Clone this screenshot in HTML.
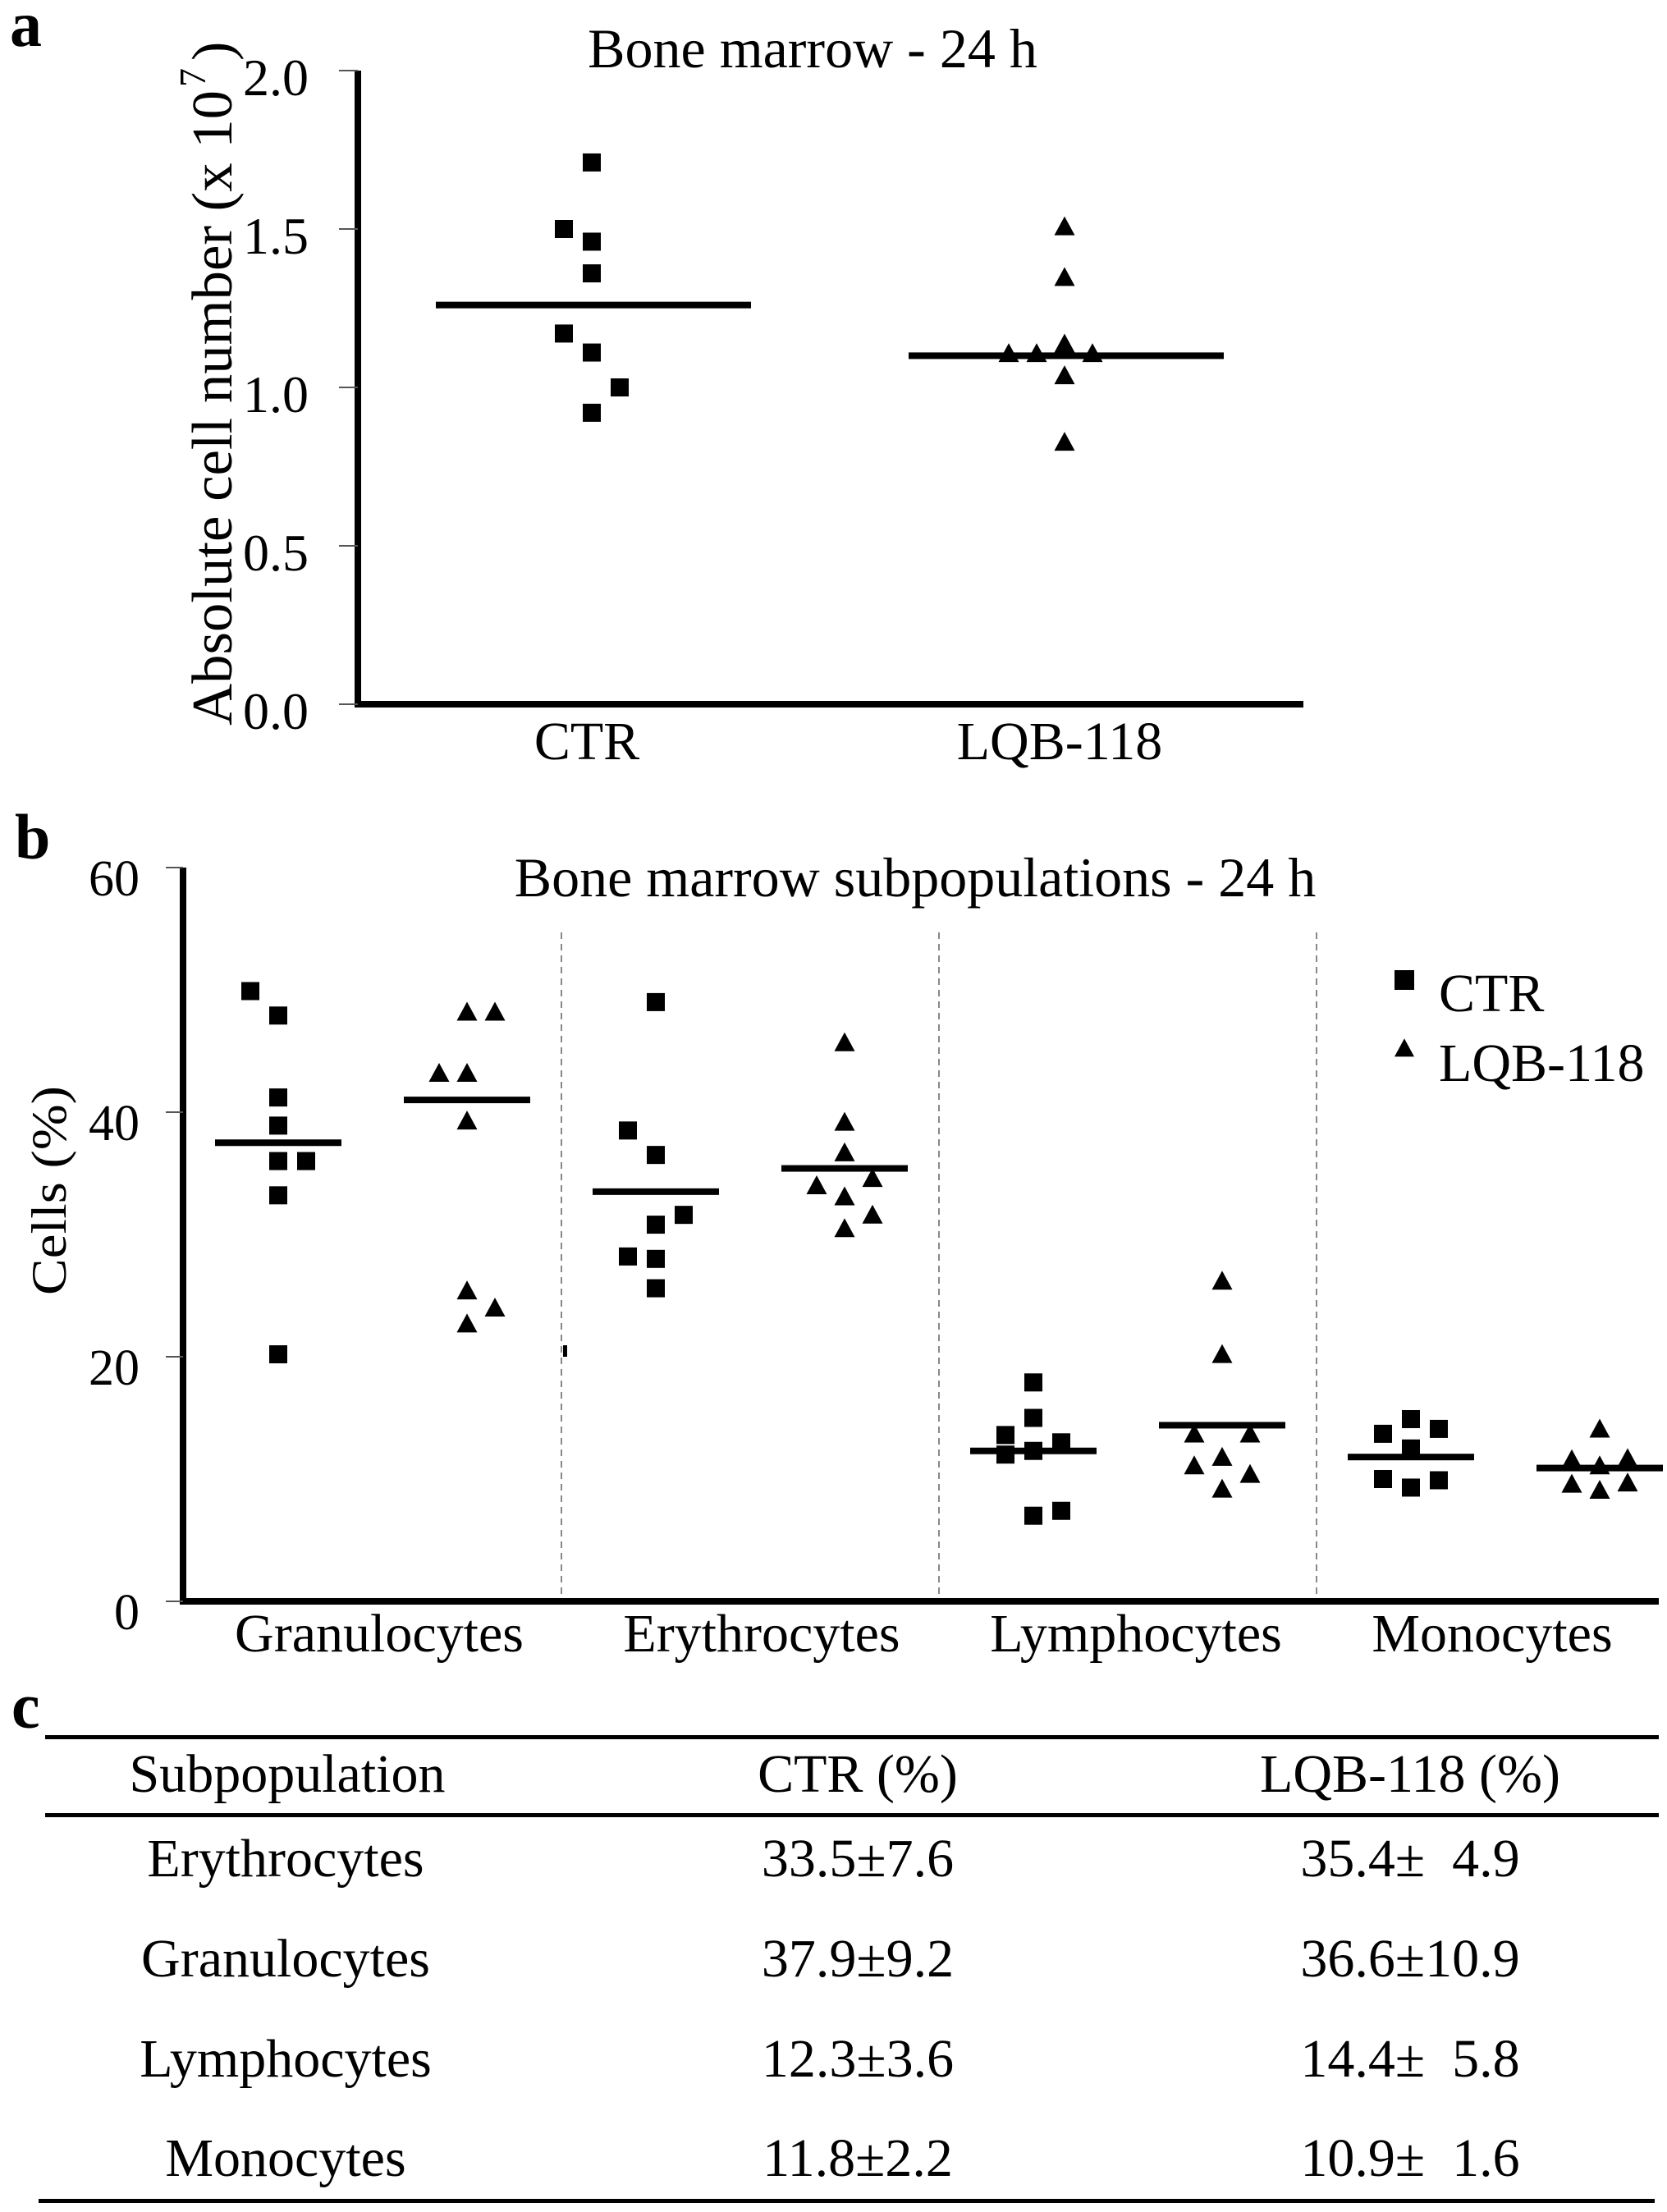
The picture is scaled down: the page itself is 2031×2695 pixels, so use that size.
<!DOCTYPE html>
<html><head><meta charset="utf-8"><style>
html,body{margin:0;padding:0;background:#fff;}
svg{display:block;font-family:"Liberation Serif",serif;}
</style></head><body>
<svg id="fig" xmlns="http://www.w3.org/2000/svg" width="2031" height="2695" viewBox="0 0 2031 2695">
<rect width="2031" height="2695" fill="#fff"/>
<g id="pa"></g>
<g id="pb"></g>
<g id="pc">
  <text x="14" y="2105" font-size="78" font-weight="bold">c</text>
  <rect x="55" y="2114" width="1966" height="5" fill="#000"/>
  <rect x="55" y="2209" width="1966" height="5" fill="#000"/>
  <rect x="47" y="2679" width="1969" height="5" fill="#000"/>
  <g font-size="66" text-anchor="middle">
    <text x="350" y="2183">Subpopulation</text>
    <text x="1045" y="2183">CTR (%)</text>
    <text x="1718" y="2183">LQB-118 (%)</text>
    <text x="348" y="2286">Erythrocytes</text>
    <text x="1045" y="2286">33.5±7.6</text>
    <text x="1718" y="2286" xml:space="preserve">35.4±  4.9</text>
    <text x="348" y="2408">Granulocytes</text>
    <text x="1045" y="2408">37.9±9.2</text>
    <text x="1718" y="2408">36.6±10.9</text>
    <text x="348" y="2530">Lymphocytes</text>
    <text x="1045" y="2530">12.3±3.6</text>
    <text x="1718" y="2530" xml:space="preserve">14.4±  5.8</text>
    <text x="348" y="2651">Monocytes</text>
    <text x="1045" y="2651">11.8±2.2</text>
    <text x="1718" y="2651" xml:space="preserve">10.9±  1.6</text>
  </g>
</g>
</svg>
<script>
// ---- Panel a data ----
const aCategories = ["CTR", "LQB-118"];
const aTicks = [0, 0.5, 1.0, 1.5, 2.0];
const aTickLabels = ["0.0", "0.5", "1.0", "1.5", "2.0"];
const aCtrValues = [1.71, 1.50, 1.46, 1.36, 1.17, 1.11, 1.00, 0.92];
const aCtrJitter = [0, -1, 0, 0, -1, 0, 1, 0];
const aLqbValues = [1.50, 1.34, 1.13, 1.10, 1.10, 1.10, 1.03, 0.82];
const aLqbJitter = [0, 0, 0, -2, -1, 1, 0, 0];
const aMeans = [1.26, 1.10];

// ---- Panel b data ----
const bCategories = ["Granulocytes", "Erythrocytes", "Lymphocytes", "Monocytes"];
const bTicks = [0, 20, 40, 60];
const bTickLabels = ["0", "20", "40", "60"];
const bCtrValues = [
  [49.9, 47.9, 41.2, 38.9, 36.0, 36.0, 33.2, 20.2],
  [49.0, 38.5, 36.5, 31.6, 30.8, 28.2, 28.0, 25.6],
  [17.9, 15.0, 13.6, 13.0, 12.3, 12.0, 7.4, 7.0],
  [14.9, 14.1, 13.7, 12.5, 10.0, 9.9, 9.3]
];
const bCtrJitter = [
  [-1, 0, 0, 0, 0, 1, 0, 0],
  [0, -1, 0, 1, 0, -1, 0, 0],
  [0, 0, -1, 1, 0, -1, 1, 0],
  [0, 1, -1, 0, -1, 1, 0]
];
const bLqbValues = [
  [48.0, 48.0, 43.0, 43.0, 39.1, 25.2, 23.8, 22.5],
  [45.5, 39.0, 36.5, 34.4, 33.8, 32.9, 31.4, 30.3],
  [26.0, 20.0, 13.5, 13.5, 11.6, 10.9, 10.2, 9.0],
  [13.9, 11.4, 11.5, 10.9, 9.4, 9.5, 8.9]
];
const bLqbJitter = [
  [0, 1, -1, 0, 0, 0, 1, 0],
  [0, 0, 0, 1, -1, 0, 1, 0],
  [0, 0, -1, 1, 0, -1, 1, 0],
  [0, -1, 1, 0, -1, 1, 0]
];
const bCtrMeans = [37.5, 33.5, 12.3, 11.8];
const bLqbMeans = [41.0, 35.4, 14.4, 10.9];
const legendLabels = ["CTR", "LQB-118"];

const NS = "http://www.w3.org/2000/svg";
function mk(tag, attrs, parent, txt) {
  const el = document.createElementNS(NS, tag);
  for (const k in attrs) el.setAttribute(k, attrs[k]);
  if (txt !== undefined) el.textContent = txt;
  parent.appendChild(el);
  return el;
}
function square(parent, cx, cy, s) {
  const el = mk("rect", {x: cx - s/2, y: cy - s/2, width: s, height: s, fill: "#000"}, parent);
  
  
  return el;
}
function tri(parent, cx, cy, w) {
  const h = w * 0.92;
  const el = mk("polygon", {points: `${cx},${cy - h*2/3} ${cx - w/2},${cy + h/3} ${cx + w/2},${cy + h/3}`, fill: "#000"}, parent);
  
  
  return el;
}

// ---- Panel a ----
(function(){
  const g = document.getElementById("pa");
  const y0 = 858, yTop = 86, axX = 436;
  const yA = v => y0 - (v / 2.0) * (y0 - yTop);
  const catX = i => 721 + i * 576;
  const jit = 34;
  let t = mk("text", {x: 12, y: 56, "font-size": 78, "font-weight": "bold"}, g, "a");
  
  
  t = mk("text", {x: 990, y: 82, "font-size": 68, "text-anchor": "middle"}, g, "Bone marrow - 24 h");
  
  
  let ax = mk("rect", {x: axX - 4, y: yTop, width: 8, height: y0 - yTop + 4, fill: "#000"}, g);
  
  
  ax = mk("rect", {x: axX - 4, y: y0 - 4, width: 1592 - axX, height: 8, fill: "#000"}, g);
  
  
  aTicks.forEach((v, i) => {
    const tk = mk("line", {x1: 413, x2: axX, y1: yA(v), y2: yA(v), stroke: "#555", "stroke-width": 2}, g);
    
    
    const lb = mk("text", {x: 376, y: yA(v) + 30, "font-size": 64, "text-anchor": "end"}, g, aTickLabels[i]);
    
    
  });
  aCategories.forEach((c, i) => {
    const lb = mk("text", {x: catX(i) - 6, y: 925, "font-size": 66, "text-anchor": "middle"}, g, c);
    
    
  });
  const yt = mk("g", {transform: "translate(282,884) rotate(-90)"}, g);
  
  
  mk("text", {x: 0, y: 0, "font-size": 70, textLength: 774, lengthAdjust: "spacingAndGlyphs"}, yt, "Absolute cell number (x 10");
  mk("text", {x: 778, y: -32, "font-size": 46}, yt, "7");
  mk("text", {x: 810, y: 0, "font-size": 70}, yt, ")");
  aCtrValues.forEach((v, i) => square(g, catX(0) + aCtrJitter[i] * jit, yA(v), 22));
  aLqbValues.forEach((v, i) => tri(g, catX(1) + aLqbJitter[i] * jit, yA(v), 25));
  aMeans.forEach((m, i) => {
    const ln = mk("rect", {x: catX(i) - 190, y: yA(m) - 4, width: 384, height: 8, fill: "#000"}, g);
    
    
  });
})();

// ---- Panel b ----
(function(){
  const g = document.getElementById("pb");
  const y0 = 1951, yTop = 1057, axX = 223;
  const yB = v => y0 - (v / 60) * (y0 - yTop);
  const ctrX = i => 339 + i * 460;
  const lqbX = i => ctrX(i) + 230;
  const jit = 34;
  let t = mk("text", {x: 18, y: 1046, "font-size": 78, "font-weight": "bold"}, g, "b");
  
  
  t = mk("text", {x: 1115, y: 1092, "font-size": 68, "text-anchor": "middle"}, g, "Bone marrow subpopulations - 24 h");
  
  
  for (let i = 0; i < bCategories.length - 1; i++) {
    const sx = (lqbX(i) + ctrX(i + 1)) / 2;
    const d = mk("line", {x1: sx, x2: sx, y1: 1136, y2: y0, stroke: "#888", "stroke-width": 2, "stroke-dasharray": "8 6"}, g);
    
    
  }
  const stray = mk("rect", {x: 686, y: 1639, width: 5, height: 14, fill: "#000"}, g);
  
  
  let ax = mk("rect", {x: axX - 4, y: yTop, width: 8, height: y0 - yTop + 4, fill: "#000"}, g);
  
  
  ax = mk("rect", {x: axX - 4, y: y0 - 4, width: 2025 - axX, height: 8, fill: "#000"}, g);
  
  
  bTicks.forEach((v, i) => {
    const tk = mk("line", {x1: 202, x2: axX, y1: yB(v), y2: yB(v), stroke: "#555", "stroke-width": 2}, g);
    
    
    const lb = mk("text", {x: 170, y: yB(v) + 34, "font-size": 62, "text-anchor": "end"}, g, bTickLabels[i]);
    
    
  });
  const catCenters = [462, 928, 1384, 1818];
  bCategories.forEach((c, i) => {
    const lb = mk("text", {x: catCenters[i], y: 2012, "font-size": 66, "text-anchor": "middle"}, g, c);
    
    
  });
  const yt = mk("text", {x: 0, y: 0, "font-size": 60, transform: "translate(80,1578) rotate(-90)", textLength: 255, lengthAdjust: "spacingAndGlyphs"}, g, "Cells (%)");
  
  
  bCtrValues.forEach((arr, gi) => arr.forEach((v, i) => square(g, ctrX(gi) + bCtrJitter[gi][i] * jit, yB(v), 22)));
  bLqbValues.forEach((arr, gi) => arr.forEach((v, i) => tri(g, lqbX(gi) + bLqbJitter[gi][i] * jit, yB(v), 25)));
  bCtrMeans.forEach((m, i) => {
    const ln = mk("rect", {x: ctrX(i) - 77, y: yB(m) - 4, width: 154, height: 8, fill: "#000"}, g);
    
    
  });
  bLqbMeans.forEach((m, i) => {
    const ln = mk("rect", {x: lqbX(i) - 77, y: yB(m) - 4, width: 154, height: 8, fill: "#000"}, g);
    
    
  });
  const lg = mk("g", {}, g);
  
  
  square(lg, 1711, 1194, 24);
  let le = mk("text", {x: 1753, y: 1232, "font-size": 66}, lg, legendLabels[0]);
  
  
  tri(lg, 1711, 1280, 24);
  le = mk("text", {x: 1753, y: 1317, "font-size": 66}, lg, legendLabels[1]);
  
  
})();
</script>
</body></html>
